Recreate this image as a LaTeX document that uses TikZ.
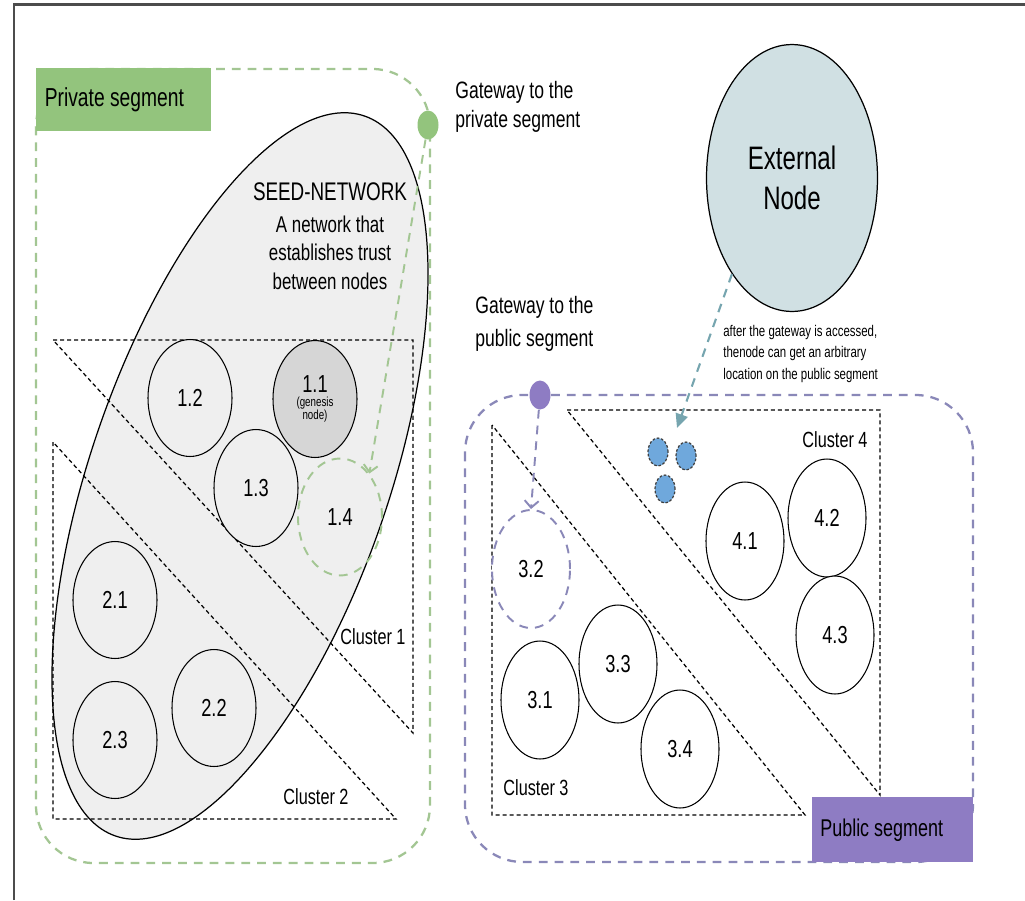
\documentclass[tikz,border=0pt]{standalone}
\usepackage{fontspec}
\setmainfont{Liberation Sans}[FakeStretch=0.74]
\usepackage{xcolor}
\usetikzlibrary{positioning, shapes.geometric, arrows.meta}

\definecolor{privgreen}{HTML}{93C47D}
\definecolor{privline}{HTML}{A3C693}
\definecolor{pubpurple}{HTML}{8E7CC3}
\definecolor{publine}{HTML}{8A88B8}
\definecolor{seedgray}{HTML}{EFEFEF}
\definecolor{genesisgray}{HTML}{D6D6D6}
\definecolor{extblue}{HTML}{D0E0E3}
\definecolor{tealline}{HTML}{76A5AF}
\definecolor{dotblue}{HTML}{6FA8DC}

\begin{document}
\begin{tikzpicture}[x=0.02cm, y=-0.02cm,
    member/.style={ellipse, draw, line width=0.6pt, inner sep=0pt, minimum width=1.56cm, minimum height=2.36cm, fill=white, font=\fontsize{14}{16}\selectfont},
    seedmember/.style={member, minimum width=1.68cm, minimum height=2.34cm, fill=seedgray},
    cluster/.style={draw, line width=0.7pt, dash pattern=on 2.3pt off 1.7pt},
    segline/.style={line width=1.3pt, dash pattern=on 5pt off 4pt, rounded corners=1.15cm},
    gwline/.style={line width=1.1pt, dash pattern=on 5pt off 4pt, -{Straight Barb[length=4pt, width=8pt]}},
    gatedot/.style={ellipse, inner sep=0pt, minimum width=0.42cm, minimum height=0.58cm},
    newdot/.style={ellipse, inner sep=0pt, minimum width=0.4cm, minimum height=0.56cm, fill=dotblue, draw=black!75, line width=0.7pt, dash pattern=on 1.5pt off 1pt},
    segbox/.style={anchor=north west, align=flush left, inner xsep=0.17cm, font=\fontsize{14}{17}\selectfont},
    gwtext/.style={anchor=north west, align=flush left, inner sep=0pt},
    clabel/.style={inner sep=0pt, font=\fontsize{12.5}{15}\selectfont}
  ]
  \useasboundingbox (0,0) rectangle (1025,900);
  \draw[black!70, line width=1.3pt] (14,900) -- (14,4.5) -- (1025,4.5);

  \node[ellipse, draw, fill=seedgray, rotate=70.9, minimum width=15.24cm, minimum height=5.96cm, inner sep=0pt, line width=0.7pt] (seed) at (240,476) {};
  \node[align=flush center, anchor=north, inner sep=0pt, font=\fontsize{13}{16.3}\selectfont] (seedtext) at (330,182)
    {{\fontsize{14.5}{17}\selectfont SEED-NETWORK}\\[2pt]A network that\\establishes trust\\between nodes};

  \draw[segline, privline] (36,69) rectangle (430,863);
  \draw[segline, publine] (465,395) rectangle (973,862);

  \draw[cluster] (53,340) -- (413,340) -- (413,733) -- cycle;
  \draw[cluster] (53,442) -- (53,819) -- (396,819) -- cycle;
  \draw[cluster] (492,425) -- (492,815) -- (805,815) -- cycle;
  \draw[cluster] (567,410) -- (880,410) -- (880,795) -- cycle;

  \node[seedmember] (n12) at (190,398) {1.2};
  \node[seedmember, fill=genesisgray, align=flush center, font=\fontsize{7.5}{7.9}\selectfont] (n11) at (315,399)
    {{\fontsize{14}{16}\selectfont 1.1}\\(genesis\\node)};
  \node[seedmember] (n13) at (256,488) {1.3};
  \node[seedmember, fill=none, draw=privline, line width=1.1pt, dash pattern=on 5pt off 4pt] (n14) at (340,517) {1.4};
  \node[seedmember] (n21) at (115,600) {2.1};
  \node[seedmember] (n22) at (214,708) {2.2};
  \node[seedmember] (n23) at (115,740) {2.3};

  \node[member, draw=publine, line width=1.1pt, dash pattern=on 5pt off 4pt] (n32) at (531,569) {3.2};
  \node[member] (n31) at (540,700) {3.1};
  \node[member] (n33) at (618,664) {3.3};
  \node[member] (n34) at (680,749) {3.4};
  \node[member] (n41) at (745,541) {4.1};
  \node[member] (n42) at (827,518) {4.2};
  \node[member] (n43) at (835,635) {4.3};

  \node[clabel] (c1) at (373,637) {Cluster 1};
  \node[clabel] (c2) at (316,797) {Cluster 2};
  \node[clabel] (c3) at (536,788) {Cluster 3};
  \node[clabel] (c4) at (835,440) {Cluster 4};

  \node[segbox, fill=privgreen, text width=3.16cm, minimum height=1.26cm, font=\fontsize{14.8}{17}\selectfont] (privlabel) at (36,68) {Private segment};
  \node[segbox, fill=pubpurple, text width=2.9cm, inner xsep=0.16cm, minimum height=1.3cm, font=\fontsize{13.8}{17}\selectfont] (publabel) at (812,797) {Public segment};

  \node[gatedot, fill=privgreen] (gwpriv) at (428,125) {};
  \node[gatedot, fill=pubpurple] (gwpub) at (540,395) {};
  \node[gwtext, font=\fontsize{13.5}{16.5}\selectfont] (gwprivtext) at (455,81) {Gateway to the\\private segment};
  \node[gwtext, font=\fontsize{13.5}{19}\selectfont] (gwpubtext) at (475,296) {Gateway to the\\public segment};

  \draw[gwline, privline] (gwpriv) -- (n14.56);
  \draw[gwline, publine] (gwpub) -- (n32.north);

  \node[ellipse, draw, fill=extblue, line width=0.7pt, inner sep=0pt, minimum width=3.42cm, minimum height=5.34cm, align=flush center, font=\fontsize{18.5}{23}\selectfont] (ext) at (792,178) {External\\Node};
  \node[gwtext, font=\fontsize{8.8}{12.2}\selectfont] (note) at (723,325)
    {after the gateway is accessed,\\thenode can get an arbitrary\\location on the public segment};

  \node[newdot] (d1) at (658,452) {};
  \node[newdot] (d2) at (686,456) {};
  \node[newdot] (d3) at (665,489) {};
  \coordinate (landing) at (677,428);
  \draw[tealline, line width=1.2pt, dash pattern=on 5pt off 4pt, -{Triangle[length=8pt, width=7pt]}] (ext.238) -- (landing);
\end{tikzpicture}
\end{document}
